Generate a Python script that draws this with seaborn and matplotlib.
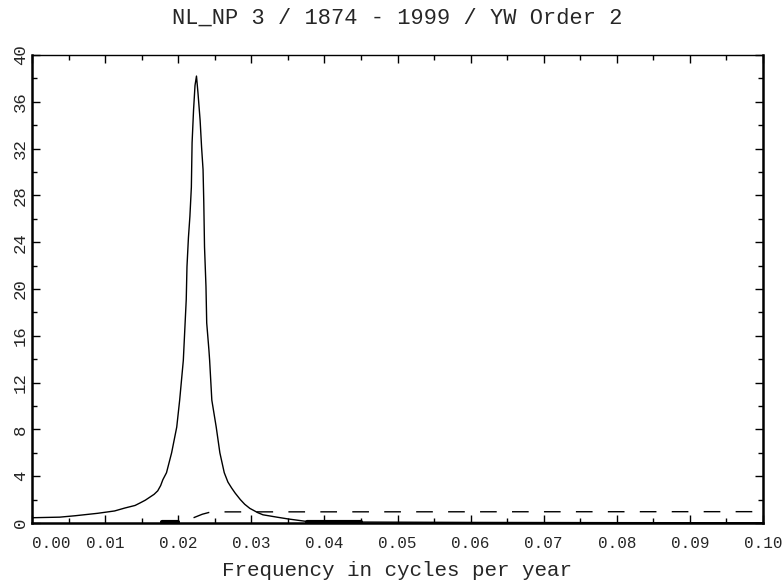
import numpy as np
import pandas as pd
import matplotlib
matplotlib.use("Agg")
import matplotlib.pyplot as plt
from matplotlib.ticker import MultipleLocator
import seaborn as sns

# ---- data ----
freq = [0.0, 0.0038, 0.0059, 0.009, 0.0113, 0.0127, 0.0141, 0.0148, 0.0155, 0.0161,
        0.0167, 0.0172, 0.0176, 0.0179, 0.0184, 0.0191, 0.0198, 0.0202, 0.0207, 0.0209,
        0.0211, 0.0212, 0.0214, 0.0216, 0.0218, 0.0219, 0.0221, 0.0223, 0.0225, 0.0227,
        0.0230, 0.0232, 0.0234, 0.0235, 0.0236, 0.0238, 0.0239, 0.0242, 0.0243, 0.0246,
        0.0252, 0.0257, 0.0263, 0.0268, 0.0273, 0.0278, 0.0285, 0.0291, 0.0298, 0.0309,
        0.0316, 0.0335, 0.035, 0.0376, 0.045, 0.06, 0.08, 0.10]
power = [0.45, 0.5, 0.62, 0.83, 1.03, 1.28, 1.5, 1.72, 1.95, 2.2,
         2.45, 2.75, 3.2, 3.7, 4.3, 6.0, 8.2, 10.5, 13.9, 16.5,
         19.1, 21.9, 24.4, 26.2, 28.7, 32.5, 35.3, 37.4, 38.2, 36.8,
         34.4, 32.1, 30.2, 27.4, 23.6, 20.2, 17.1, 14.8, 13.9, 10.5,
         8.2, 6.0, 4.3, 3.5, 3.0, 2.55, 2.0, 1.6, 1.25, 0.88,
         0.7, 0.5, 0.35, 0.13, 0.08, 0.05, 0.03, 0.02]

dash_freq = [0.0221, 0.0233, 0.0245, 0.10]
dash_level = [0.45, 0.75, 0.95, 0.97]

band1_freq = [0.0178, 0.0200]
band1_val = [0.12, 0.12]
band2_freq = [0.0376, 0.0450]
band2_val = [0.12, 0.12]

x_ticks = [0.00, 0.01, 0.02, 0.03, 0.04, 0.05, 0.06, 0.07, 0.08, 0.09, 0.10]
y_ticks = [0, 4, 8, 12, 16, 20, 24, 28, 32, 36, 40]

title = "NL_NP 3 / 1874 - 1999 / YW Order 2"
xlabel = "Frequency in cycles per year"

# ---- drawing ----
sns.set_theme(style="white")
FONT = ["Liberation Mono", "DejaVu Sans Mono"]
plt.rcParams["font.family"] = FONT

fig = plt.figure(figsize=(7.84, 5.84), dpi=100)
ax = fig.add_axes([32 / 784, 1 - 523 / 584, (763 - 32) / 784, (523 - 55) / 584])

df = pd.DataFrame({"f": freq, "p": power})
sns.lineplot(data=df, x="f", y="p", ax=ax, color="black", lw=1.0,
             estimator=None, sort=False)

dfd = pd.DataFrame({"f": dash_freq, "p": dash_level})
sns.lineplot(data=dfd, x="f", y="p", ax=ax, color="black", lw=1.0,
             estimator=None, sort=False)
ax.lines[-1].set_dashes((12, 11))

for bf, bv in ((band1_freq, band1_val), (band2_freq, band2_val)):
    dfb = pd.DataFrame({"f": bf, "p": bv})
    sns.lineplot(data=dfb, x="f", y="p", ax=ax, color="black", lw=3.0,
                 estimator=None, sort=False)

ax.set_xlim(0, 0.10)
ax.set_ylim(0, 40)
ax.set_xticks(x_ticks)
ax.set_yticks(y_ticks)
ax.xaxis.set_minor_locator(MultipleLocator(0.005))
ax.yaxis.set_minor_locator(MultipleLocator(2))
ax.set_xticklabels([f"{v:.2f}" for v in x_ticks], fontsize=11.5)
ax.set_yticklabels([str(v) for v in y_ticks], fontsize=12.5, rotation=90, va="center")
ax.get_xticklabels()[0].set_ha("left")

ax.tick_params(which="both", direction="in", top=True, right=True,
               bottom=True, left=True, color="black", width=1.0)
ax.tick_params(which="major", length=6)
ax.tick_params(which="minor", length=3.5)
ax.tick_params(axis="x", which="both", pad=9)
ax.tick_params(axis="y", which="both", pad=3)

for side in ("left", "bottom", "right"):
    ax.spines[side].set_linewidth(1.8)
    ax.spines[side].set_color("black")
ax.spines["top"].set_linewidth(1.0)
ax.spines["top"].set_color("black")

ax.set_xlabel("")
ax.set_ylabel("")
fig.text(397.5 / 784, 1 - 18 / 584, title, ha="center", va="center", fontsize=15.8)
fig.text(397.5 / 784, 1 - 571 / 584, xlabel, ha="center", va="center", fontsize=15)

fig.savefig("out.png", dpi=100, facecolor="white")
